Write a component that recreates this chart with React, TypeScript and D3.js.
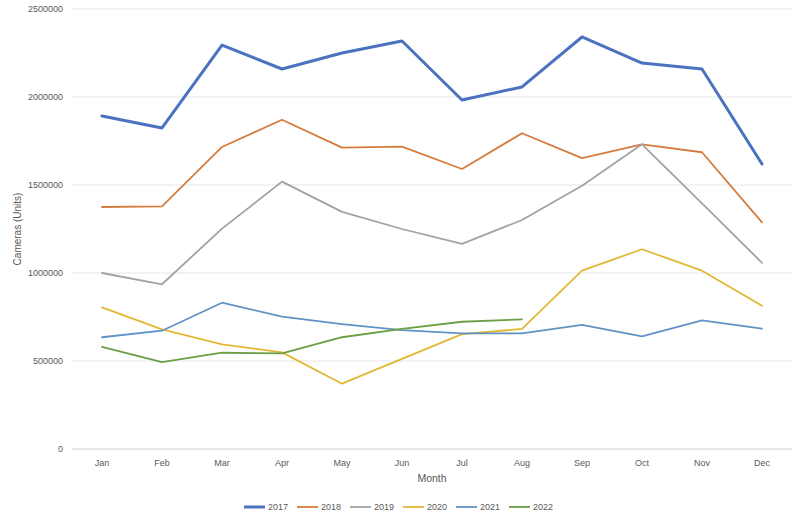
import React from "react";
import * as d3 from "d3";

const months = ["Jan", "Feb", "Mar", "Apr", "May", "Jun", "Jul", "Aug", "Sep", "Oct", "Nov", "Dec"];
const yTicks = [0, 500000, 1000000, 1500000, 2000000, 2500000];

const s2017 = [1892000, 1824000, 2295000, 2159000, 2250000, 2318000, 1983000, 2057000, 2341000, 2193000, 2159000, 1619000];
const s2018 = [1375000, 1379000, 1716000, 1871000, 1712000, 1718000, 1591000, 1794000, 1653000, 1731000, 1686000, 1288000];
const s2019 = [1000000, 936000, 1252000, 1519000, 1347000, 1250000, 1165000, 1301000, 1496000, 1731000, 1395000, 1058000];
const s2020 = [805000, 680000, 595000, 549000, 371000, 512000, 653000, 682000, 1013000, 1135000, 1013000, 814000];
const s2021 = [635000, 672000, 831000, 752000, 710000, 675000, 657000, 657000, 705000, 640000, 731000, 684000];
const s2022 = [580000, 493000, 547000, 543000, 635000, 683000, 723000, 737000];

const seriesNames = ["2017", "2018", "2019", "2020", "2021", "2022"];
const seriesValues = [s2017, s2018, s2019, s2020, s2021, s2022];
const seriesColors = ["#4A72BE", "#D57B3E", "#A2A2A2", "#E2B833", "#6192C6", "#6B9E45"];
const seriesWidths = [3, 1.8, 1.8, 1.8, 1.8, 1.8];

const W = 800;
const H = 514;
const left = 72;
const right = 792;
const top = 9;
const bottom = 449;
const font = "'Liberation Sans', Arial, sans-serif";

export default function App() {
  const x = d3.scaleBand<string>().domain(months).range([left, right]);
  const y = d3.scaleLinear().domain([0, 2500000]).range([bottom, top]);
  const cx = (m: string) => (x(m) as number) + x.bandwidth() / 2;

  const line = d3
    .line<number>()
    .x((_, i) => cx(months[i]))
    .y((d) => y(d));

  const legendStart = 244;
  const legendStep = 53;

  return (
    <svg
      width={W}
      height={H}
      style={{ position: "absolute", left: 0, top: 0, background: "#fff" }}
      fontFamily={font}
    >
      <rect x={0} y={0} width={W} height={H} fill="#fff" />
      {yTicks.map((t) => (
        <g key={t}>
          <line x1={left} x2={right} y1={y(t)} y2={y(t)} stroke={t === 0 ? "#D0D0D0" : "#E6E6E6"} strokeWidth={1} />
          <text x={63} y={y(t)} dy="0.35em" textAnchor="end" fontSize={9} fill="#595959">
            {t}
          </text>
        </g>
      ))}
      {months.map((m) => (
        <text key={m} x={cx(m)} y={466} textAnchor="middle" fontSize={9} fill="#595959">
          {m}
        </text>
      ))}
      <text x={432} y={482} textAnchor="middle" fontSize={10.5} fill="#595959">
        Month
      </text>
      <text
        transform={`translate(21, ${(top + bottom) / 2}) rotate(-90)`}
        textAnchor="middle"
        fontSize={10}
        fill="#595959"
      >
        Cameras (Units)
      </text>
      {seriesValues.map((vals, i) => (
        <path
          key={seriesNames[i]}
          d={line(vals) || ""}
          fill="none"
          stroke={seriesColors[i]}
          strokeWidth={seriesWidths[i]}
          strokeLinejoin="round"
          strokeLinecap="round"
        />
      ))}
      {seriesNames.map((n, i) => {
        const lx = legendStart + i * legendStep;
        return (
          <g key={n}>
            <line x1={lx} x2={lx + 21} y1={507} y2={507} stroke={seriesColors[i]} strokeWidth={seriesWidths[i]} />
            <text x={lx + 24} y={507} dy="0.35em" fontSize={9} fill="#595959">
              {n}
            </text>
          </g>
        );
      })}
    </svg>
  );
}
